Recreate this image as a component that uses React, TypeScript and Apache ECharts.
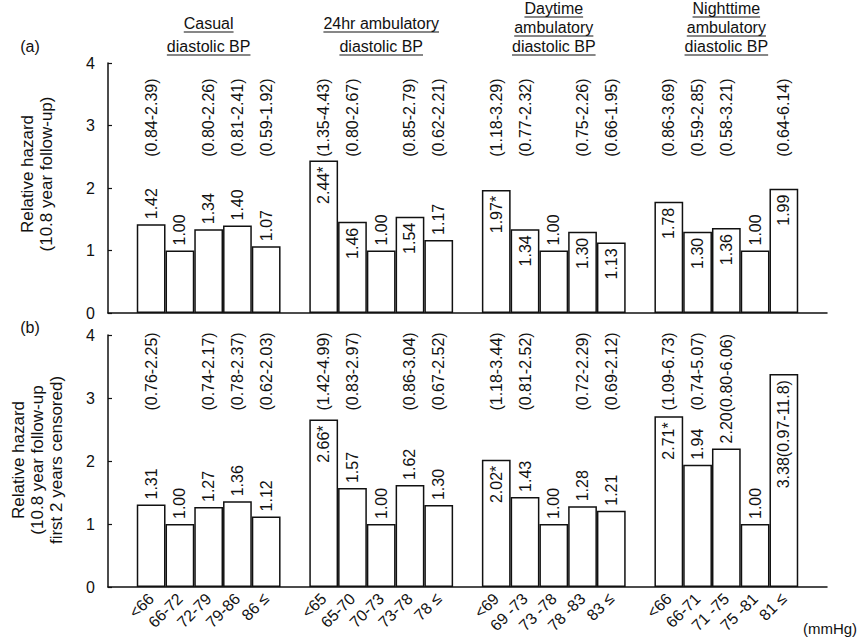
import React, { useEffect, useRef } from "react";
import * as echarts from "echarts";

// ---------------- data ----------------
const groupTitles = [
  "Casual\ndiastolic BP",
  "24hr ambulatory\ndiastolic BP",
  "Daytime\nambulatory\ndiastolic BP",
  "Nighttime\nambulatory\ndiastolic BP",
];

const rangeLabels = [
  ["<66", "66-72", "72-79", "79-86", "86 ≤"],
  ["<65", "65-70", "70-73", "73-78", "78 ≤"],
  ["<69", "69 -73", "73 -78", "78 -83", "83 ≤"],
  ["<66", "66-71", "71 -75", "75 -81", "81 ≤"],
];

// (a) 10.8 year follow-up
const hazardA = [
  1.42, 1.0, 1.34, 1.4, 1.07,
  2.44, 1.46, 1.0, 1.54, 1.17,
  1.97, 1.34, 1.0, 1.3, 1.13,
  1.78, 1.3, 1.36, 1.0, 1.99,
];
const sigA = [
  false, false, false, false, false,
  true, false, false, false, false,
  true, false, false, false, false,
  false, false, false, false, false,
];
const ciA = [
  "(0.84-2.39)", "", "(0.80-2.26)", "(0.81-2.41)", "(0.59-1.92)",
  "(1.35-4.43)", "(0.80-2.67)", "", "(0.85-2.79)", "(0.62-2.21)",
  "(1.18-3.29)", "(0.77-2.32)", "", "(0.75-2.26)", "(0.66-1.95)",
  "(0.86-3.69)", "(0.59-2.85)", "(0.58-3.21)", "", "(0.64-6.14)",
];
const labelPlaceA = [
  "above", "above", "above", "above", "above",
  "inside", "inside", "above", "inside", "above",
  "inside", "inside", "above", "inside", "inside",
  "inside", "inside", "inside", "above", "inside",
];

// (b) 10.8 year follow-up, first 2 years censored
const hazardB = [
  1.31, 1.0, 1.27, 1.36, 1.12,
  2.66, 1.57, 1.0, 1.62, 1.3,
  2.02, 1.43, 1.0, 1.28, 1.21,
  2.71, 1.94, 2.2, 1.0, 3.38,
];
const sigB = [
  false, false, false, false, false,
  true, false, false, false, false,
  true, false, false, false, false,
  true, false, false, false, false,
];
const ciB = [
  "(0.76-2.25)", "", "(0.74-2.17)", "(0.78-2.37)", "(0.62-2.03)",
  "(1.42-4.99)", "(0.83-2.97)", "", "(0.86-3.04)", "(0.67-2.52)",
  "(1.18-3.44)", "(0.81-2.52)", "", "(0.72-2.29)", "(0.69-2.12)",
  "(1.09-6.73)", "(0.74-5.07)", "(0.80-6.06)", "", "(0.97-11.8)",
];
const labelPlaceB = [
  "above", "above", "above", "above", "above",
  "inside", "above", "above", "above", "above",
  "inside", "above", "above", "above", "above",
  "inside", "above", "aboveJoin", "above", "insideJoin",
];

const yTicks = [0, 1, 2, 3, 4];

// ---------------- layout ----------------
const FONT = "'Liberation Sans', Arial, Helvetica, sans-serif";
const INK = "#111";
const GRID_LEFT = 108;
const GRID_RIGHT = 37;
const W = 864;
const NSLOT = 25;
const SLOT_W = (W - GRID_LEFT - GRID_RIGHT) / NSLOT;
const CI_BASE_A = 2.5;
const CI_BASE_B = 2.8;

const slotOf = (i: number) => 1 + Math.floor(i / 5) * 6 + (i % 5);
const slotIds = Array.from({ length: NSLOT }, (_, k) => "s" + k);
const slotLabels: string[] = Array.from({ length: NSLOT }, () => "");
rangeLabels.flat().forEach((l, i) => {
  slotLabels[slotOf(i)] = l;
});

function buildBars(values: number[], sig: boolean[], place: string[], ci: string[]) {
  const arr: any[] = Array.from({ length: NSLOT }, () => "-");
  values.forEach((v, i) => {
    const p = place[i];
    const inside = p.startsWith("inside");
    const join = p.endsWith("Join");
    const txt = v.toFixed(2) + (sig[i] ? "*" : "") + (join ? ci[i] : "");
    arr[slotOf(i)] = {
      value: v,
      label: {
        show: true,
        position: inside ? "insideTop" : "top",
        rotate: 90,
        align: inside ? "right" : "left",
        verticalAlign: "middle",
        distance: inside ? 6 : 5,
        formatter: txt,
      },
    };
  });
  return arr;
}

function buildCI(ci: string[], place: string[], base: number) {
  const arr: any[] = Array.from({ length: NSLOT }, () => "-");
  ci.forEach((c, i) => {
    if (!c || place[i].endsWith("Join")) return;
    arr[slotOf(i)] = { value: base, label: { formatter: c } };
  });
  return arr;
}

function measure(text: string, size: number) {
  const c = document.createElement("canvas").getContext("2d");
  if (!c) return text.length * size * 0.5;
  c.font = `${size}px ${FONT}`;
  return c.measureText(text).width;
}

export default function App() {
  const ref = useRef<HTMLDivElement>(null);

  useEffect(() => {
    if (!ref.current) return;
    const chart = echarts.init(ref.current, null, { renderer: "svg" });

    const axisLine = { show: true, lineStyle: { color: INK, width: 1.5 } };
    const graphics: any[] = [];

    // group headers (underlined)
    groupTitles.forEach((t, g) => {
      const cx = GRID_LEFT + SLOT_W * (1 + 6 * g + 2.5);
      const lines = t.split("\n");
      const n = lines.length;
      const step = n === 3 ? 19 : 23;
      lines.forEach((ln, j) => {
        const y = 46 - (n - 1 - j) * step;
        graphics.push({
          type: "text",
          x: cx,
          y,
          style: {
            text: ln,
            fontSize: 16,
            fontFamily: FONT,
            fill: INK,
            align: "center",
            verticalAlign: "middle",
            textAlign: "center",
            textVerticalAlign: "middle",
          },
        });
        const w = measure(ln, 16);
        graphics.push({
          type: "line",
          shape: { x1: cx - w / 2, y1: y + 9, x2: cx + w / 2, y2: y + 9 },
          style: { stroke: INK, lineWidth: 1.2 },
        });
      });
    });

    const plainText = (text: string, x: number, y: number, size: number, extra: any = {}) => ({
      type: "text",
      x,
      y,
      ...extra,
      style: {
        text,
        fontSize: size,
        fontFamily: FONT,
        fill: INK,
        align: "center",
        verticalAlign: "middle",
        textAlign: "center",
        textVerticalAlign: "middle",
        lineHeight: 19,
      },
    });

    graphics.push(plainText("(a)", 30, 46, 16));
    graphics.push(plainText("(b)", 30, 327, 16));
    graphics.push(plainText("(mmHg)", 830, 628, 15));
    graphics.push(
      plainText("Relative hazard\n(10.8 year follow-up)", 37, 174, 17, { rotation: Math.PI / 2 })
    );
    graphics.push(
      plainText(
        "Relative hazard\n(10.8 year follow-up\nfirst 2 years censored)",
        37,
        460,
        17,
        { rotation: Math.PI / 2 }
      )
    );

    const yAxisCfg = (gridIndex: number) => ({
      gridIndex,
      type: "value",
      min: yTicks[0],
      max: yTicks[yTicks.length - 1],
      interval: 1,
      axisLine,
      axisTick: { show: true, inside: true, length: 4, lineStyle: { color: INK, width: 1.2 } },
      axisLabel: { fontSize: 16, color: INK, margin: 13, fontFamily: FONT },
      splitLine: { show: false },
    });

    const barStyle = { color: "#fff", borderColor: INK, borderWidth: 1.5 };
    const labelBase = { fontSize: 16, color: INK, fontFamily: FONT };
    const ciSeries = (xi: number, data: any[]) => ({
      type: "bar",
      xAxisIndex: xi,
      yAxisIndex: xi,
      data,
      silent: true,
      barGap: "-100%",
      barCategoryGap: "0%",
      itemStyle: { color: "rgba(0,0,0,0)", borderWidth: 0 },
      label: {
        show: true,
        position: "top",
        distance: 0,
        rotate: 90,
        align: "left",
        verticalAlign: "middle",
        ...labelBase,
      },
      z: 3,
    });

    chart.setOption({
      animation: false,
      backgroundColor: "#fff",
      textStyle: { fontFamily: FONT },
      grid: [
        { left: GRID_LEFT, right: GRID_RIGHT, top: 63, height: 250 },
        { left: GRID_LEFT, right: GRID_RIGHT, top: 335, height: 252 },
      ],
      xAxis: [
        {
          gridIndex: 0,
          type: "category",
          data: slotIds,
          boundaryGap: true,
          axisLine,
          axisTick: { show: false },
          axisLabel: { show: false },
        },
        {
          gridIndex: 1,
          type: "category",
          data: slotIds,
          boundaryGap: true,
          axisLine,
          axisTick: { show: false },
          axisLabel: {
            show: true,
            interval: 0,
            rotate: 45,
            fontSize: 16,
            color: INK,
            margin: 9,
            fontFamily: FONT,
            formatter: (_v: string, idx: number) => slotLabels[idx],
          },
        },
      ],
      yAxis: [yAxisCfg(0), yAxisCfg(1)],
      series: [
        {
          type: "bar",
          xAxisIndex: 0,
          yAxisIndex: 0,
          data: buildBars(hazardA, sigA, labelPlaceA, ciA),
          barGap: "-100%",
          barCategoryGap: "0%",
          itemStyle: barStyle,
          label: labelBase,
          z: 2,
        },
        ciSeries(0, buildCI(ciA, labelPlaceA, CI_BASE_A)),
        {
          type: "bar",
          xAxisIndex: 1,
          yAxisIndex: 1,
          data: buildBars(hazardB, sigB, labelPlaceB, ciB),
          barGap: "-100%",
          barCategoryGap: "0%",
          itemStyle: barStyle,
          label: labelBase,
          z: 2,
        },
        ciSeries(1, buildCI(ciB, labelPlaceB, CI_BASE_B)),
      ],
      graphic: graphics,
    });

    return () => chart.dispose();
  }, []);

  return <div ref={ref} style={{ width: 864, height: 642, position: "absolute", left: 0, top: 0 }} />;
}
